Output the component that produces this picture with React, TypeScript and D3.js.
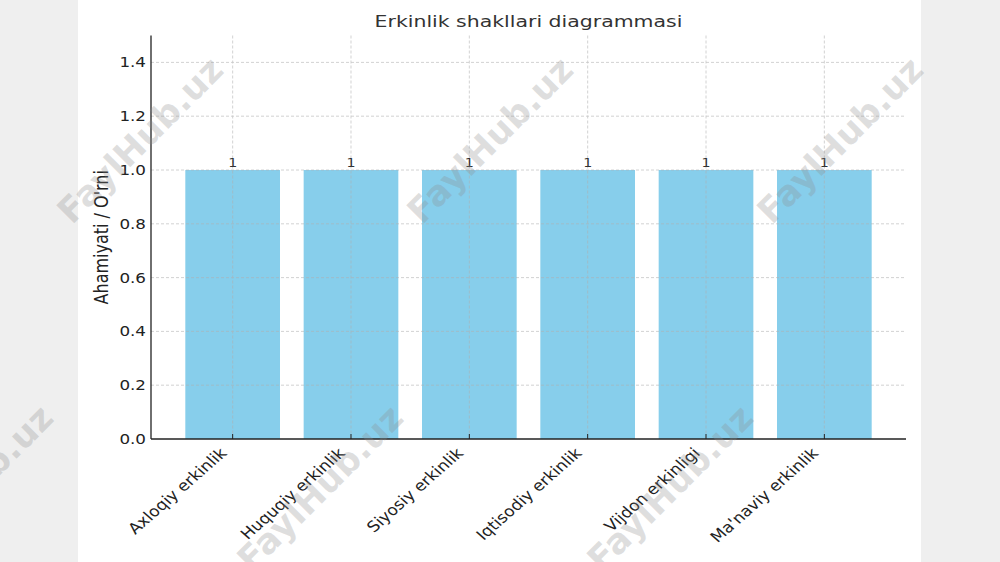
import { useEffect, useRef } from 'react'
import * as d3 from 'd3'

const categories = [
  'Axloqiy erkinlik',
  'Huquqiy erkinlik',
  'Siyosiy erkinlik',
  'Iqtisodiy erkinlik',
  'Vijdon erkinligi',
  "Ma'naviy erkinlik"
]
const values = [1, 1, 1, 1, 1, 1]
const yTicks = [0, 0.2, 0.4, 0.6, 0.8, 1.0, 1.2, 1.4]
const title = 'Erkinlik shakllari diagrammasi'
const yLabel = "Ahamiyati / O'rni"
const watermark = 'FaylHub.uz'
const watermarkSpots = [
  [140, 140], [490, 140], [840, 140],
  [-30, 488], [320, 488], [670, 488]
]

const W = 1000
const H = 562
const FONT = '"DejaVu Sans", sans-serif'
// the reference image is stretched sideways, so the text is too
const SX = 1.24

export default function App() {
  const svgRef = useRef<SVGSVGElement>(null)

  useEffect(() => {
    if (!svgRef.current) return
    const svg = d3.select(svgRef.current)
    svg.selectAll('*').remove()

    const left = 151, right = 906, top = 35.5, bottom = 439

    // background + white panel
    svg.append('rect').attr('width', W).attr('height', H).attr('fill', '#efefef')
    svg.append('rect').attr('x', 78).attr('y', 0).attr('width', 843).attr('height', H).attr('fill', '#ffffff')

    // matplotlib-style x: bar width 0.8, 5% margins
    const n = categories.length
    const pad = (n - 1 + 0.8) * 0.05 + 0.4
    const x = d3.scaleLinear().domain([-pad, n - 1 + pad]).range([left, right])
    const y = d3.scaleLinear().domain([0, 1.5]).range([bottom, top])
    const barW = x(0.8) - x(0)

    const g = svg.append('g')

    const label = (px: number, py: number, rot: number, txt: string, size: number, anchor: string, fill = '#222', sx = SX) =>
      g.append('text')
        .attr('transform', `translate(${px},${py}) scale(${sx},1) rotate(${rot})`)
        .attr('text-anchor', anchor)
        .attr('font-family', FONT)
        .attr('font-size', size)
        .attr('fill', fill)
        .text(txt)

    // bars
    g.selectAll('rect.bar')
      .data(values)
      .enter()
      .append('rect')
      .attr('class', 'bar')
      .attr('x', (_, i) => x(i) - barW / 2)
      .attr('y', d => y(d))
      .attr('width', barW)
      .attr('height', d => y(0) - y(d))
      .attr('fill', '#87ceeb')

    // grid (on top of bars)
    const grid = g.append('g')
      .attr('stroke', '#b0b0b0')
      .attr('stroke-width', 0.8)
      .attr('stroke-dasharray', '3,2')
      .attr('opacity', 0.7)
    grid.selectAll('line.gy')
      .data(yTicks.slice(1))
      .enter()
      .append('line')
      .attr('x1', left).attr('x2', right)
      .attr('y1', d => y(d)).attr('y2', d => y(d))
    grid.selectAll('line.gx')
      .data(categories)
      .enter()
      .append('line')
      .attr('x1', (_, i) => x(i)).attr('x2', (_, i) => x(i))
      .attr('y1', top).attr('y2', bottom)

    // value labels
    values.forEach((v, i) => label(x(i), y(v) - 3, 0, String(v), 11.5, 'middle', '#333'))

    // spines
    g.append('line')
      .attr('x1', left).attr('x2', left).attr('y1', top).attr('y2', bottom)
      .attr('stroke', '#222').attr('stroke-width', 1.3)
    g.append('line')
      .attr('x1', left).attr('x2', right).attr('y1', bottom).attr('y2', bottom)
      .attr('stroke', '#222').attr('stroke-width', 1.3)

    // x ticks (inward) + rotated labels
    categories.forEach((c, i) => {
      g.append('line')
        .attr('x1', x(i)).attr('x2', x(i))
        .attr('y1', bottom).attr('y2', bottom - 5)
        .attr('stroke', '#222').attr('stroke-width', 1)
      label(x(i) - 5, bottom + 15, -45, c, 15, 'end', '#222', 1.14)
    })

    // y tick labels
    yTicks.forEach(t => label(left - 5, y(t) + 5, 0, t.toFixed(1), 13.5, 'end'))

    // y label
    label(108, (top + bottom) / 2, -90, yLabel, 16, 'middle')

    // title
    label((left + right) / 2, 27, 0, title, 16.5, 'middle', '#333')

    // watermarks
    svg.selectAll('text.wm')
      .data(watermarkSpots)
      .enter()
      .append('text')
      .attr('transform', d => `translate(${d[0]},${d[1]}) rotate(-45)`)
      .attr('text-anchor', 'middle')
      .attr('dy', '0.35em')
      .attr('font-family', FONT)
      .attr('font-weight', 'bold')
      .attr('font-size', 35)
      .attr('fill', 'rgba(140,140,140,0.28)')
      .text(watermark)
  }, [])

  return (
    <svg
      ref={svgRef}
      width={W}
      height={H}
      style={{ position: 'absolute', left: 0, top: 0 }}
    />
  )
}
